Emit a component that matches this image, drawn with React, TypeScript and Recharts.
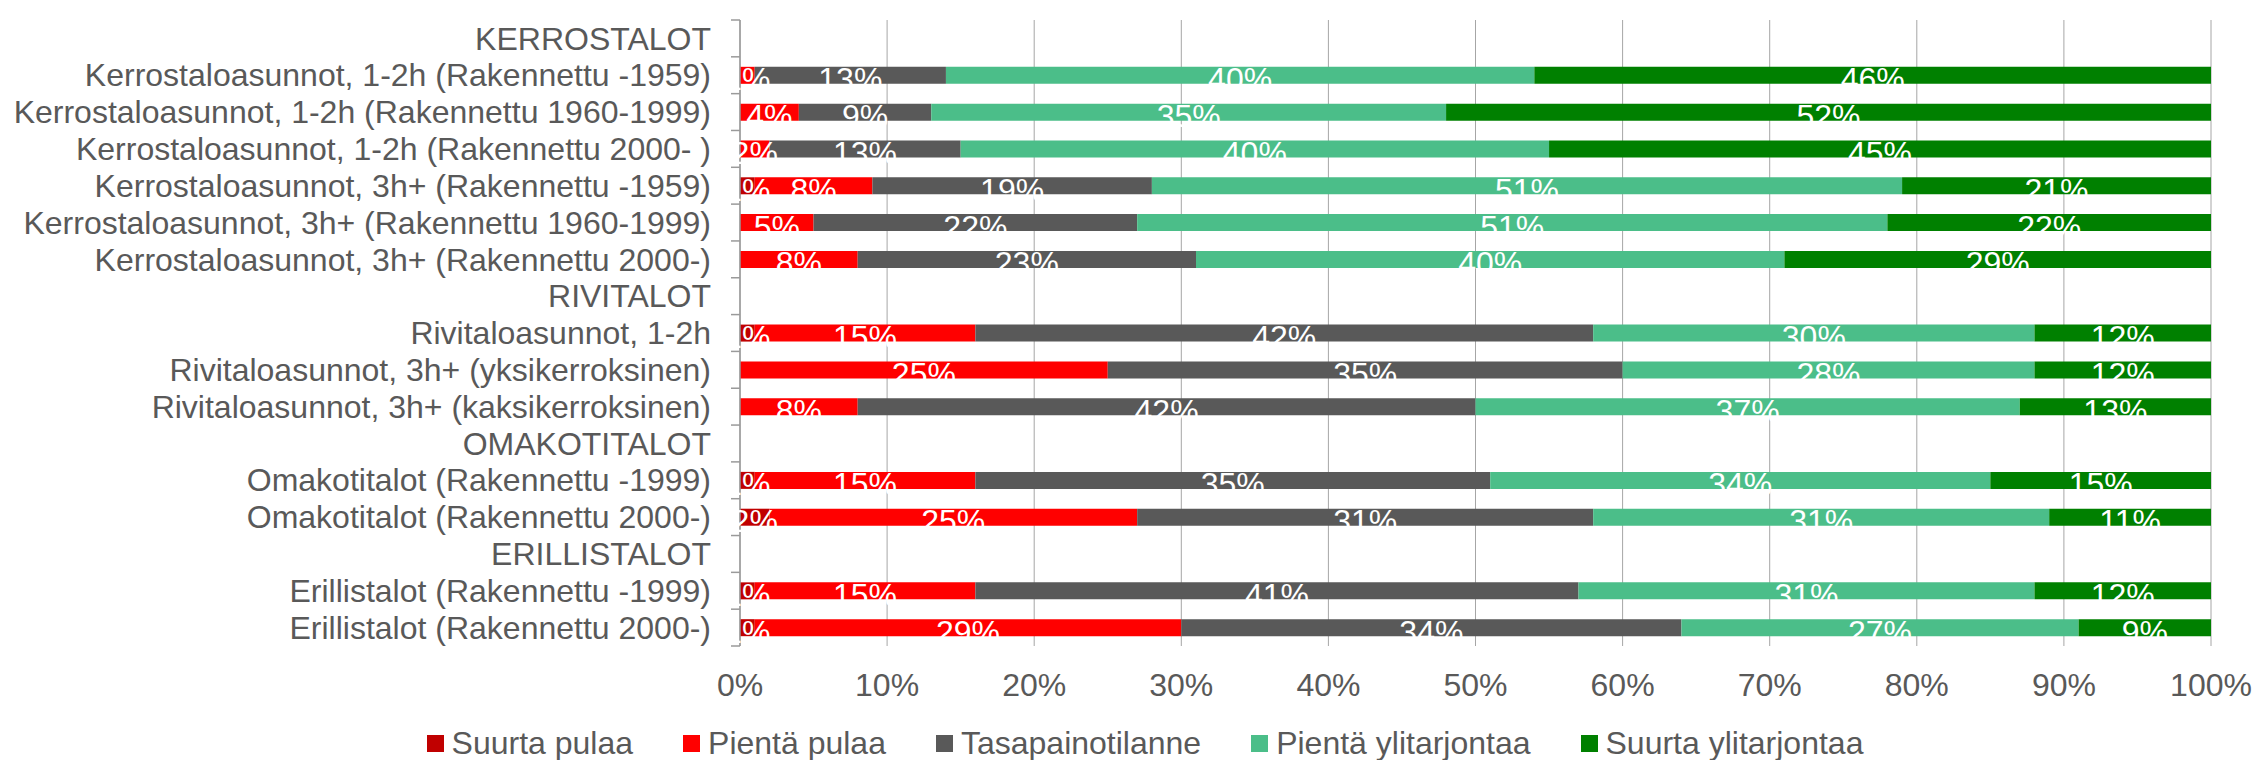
import { Bar, BarChart, CartesianGrid, LabelList, Legend, XAxis, YAxis } from "recharts";

const categories = [
  "KERROSTALOT",
  "Kerrostaloasunnot, 1-2h (Rakennettu -1959)",
  "Kerrostaloasunnot, 1-2h (Rakennettu 1960-1999)",
  "Kerrostaloasunnot, 1-2h (Rakennettu 2000- )",
  "Kerrostaloasunnot, 3h+ (Rakennettu -1959)",
  "Kerrostaloasunnot, 3h+ (Rakennettu 1960-1999)",
  "Kerrostaloasunnot, 3h+ (Rakennettu 2000-)",
  "RIVITALOT",
  "Rivitaloasunnot, 1-2h",
  "Rivitaloasunnot, 3h+ (yksikerroksinen)",
  "Rivitaloasunnot, 3h+ (kaksikerroksinen)",
  "OMAKOTITALOT",
  "Omakotitalot (Rakennettu -1999)",
  "Omakotitalot (Rakennettu 2000-)",
  "ERILLISTALOT",
  "Erillistalot (Rakennettu -1999)",
  "Erillistalot (Rakennettu 2000-)"
];

const suurtaPulaa = [null, 0, 0, 0, 1, 0, 0, null, 1, 0, 0, null, 1, 2, null, 1, 1];
const pientaPulaa = [null, 1, 4, 2, 8, 5, 8, null, 15, 25, 8, null, 15, 25, null, 15, 29];
const tasapaino = [null, 13, 9, 13, 19, 22, 23, null, 42, 35, 42, null, 35, 31, null, 41, 34];
const pientaYli = [null, 40, 35, 40, 51, 51, 40, null, 30, 28, 37, null, 34, 31, null, 31, 27];
const suurtaYli = [null, 46, 52, 45, 21, 22, 29, null, 12, 12, 13, null, 15, 11, null, 12, 9];

const xTicks = [0, 10, 20, 30, 40, 50, 60, 70, 80, 90, 100];

const series = [
  { key: "suurtaPulaa", name: "Suurta pulaa", color: "#C00000" },
  { key: "pientaPulaa", name: "Pientä pulaa", color: "#FF0000" },
  { key: "tasapaino", name: "Tasapainotilanne", color: "#595959" },
  { key: "pientaYli", name: "Pientä ylitarjontaa", color: "#4BBE89" },
  { key: "suurtaYli", name: "Suurta ylitarjontaa", color: "#008000" }
];

const WIDTH = 2254;
const HEIGHT = 760;
const MARGIN = { top: 20, right: 43, bottom: 54, left: 0 };
const X_AXIS_HEIGHT = 60;
const FONT = "'Liberation Sans', Arial, sans-serif";
const TEXT = "#595959";
const AXIS = "#9a9a9a";
const TICK_SIZE = 9;
const TICK_MARGIN = 20;
const ROW = (HEIGHT - MARGIN.top - MARGIN.bottom - X_AXIS_HEIGHT) / categories.length;

const data = categories.map((name, i) => ({
  name,
  suurtaPulaa: suurtaPulaa[i],
  pientaPulaa: pientaPulaa[i],
  tasapaino: tasapaino[i],
  pientaYli: pientaYli[i],
  suurtaYli: suurtaYli[i]
}));

const CategoryTick = (props: any) => {
  const { x, y, payload, index } = props;
  const lx1 = x + TICK_MARGIN;
  const lx2 = lx1 + TICK_SIZE;
  return (
    <g>
      <text x={x} y={y} dy="0.35em" textAnchor="end" fill={TEXT} fontSize={32} fontFamily={FONT}>
        {payload.value}
      </text>
      <line x1={lx1} x2={lx2} y1={y - ROW / 2} y2={y - ROW / 2} stroke={AXIS} strokeWidth={1.5} />
      {index === categories.length - 1 && (
        <line x1={lx1} x2={lx2} y1={y + ROW / 2} y2={y + ROW / 2} stroke={AXIS} strokeWidth={1.5} />
      )}
    </g>
  );
};

const BarLabel = (props: any) => {
  const { x, y, width, height, value } = props;
  if (!value) return null;
  return (
    <text
      x={x + width / 2}
      y={y + height / 2 + 15}
      textAnchor="middle"
      fill="#ffffff"
      fontSize={32}
      fontFamily={FONT}
    >
      {`${value}%`}
    </text>
  );
};

const LegendContent = () => (
  <div
    style={{
      display: "flex",
      justifyContent: "center",
      alignItems: "center",
      gap: 50,
      paddingLeft: 36,
      fontFamily: FONT,
      fontSize: 32,
      color: TEXT,
      lineHeight: "37px"
    }}
  >
    {series.map((s) => (
      <div key={s.key} style={{ display: "flex", alignItems: "center" }}>
        <span style={{ width: 17, height: 17, background: s.color, marginRight: 8, display: "inline-block" }} />
        <span>{s.name}</span>
      </div>
    ))}
  </div>
);

export default function App() {
  return (
    <div style={{ position: "absolute", left: 0, top: 0, fontFamily: FONT }}>
      <BarChart width={WIDTH} height={HEIGHT} data={data} layout="vertical" margin={MARGIN} barSize={17}>
        <CartesianGrid horizontal={false} stroke="#a6a6a6" />
        <XAxis
          type="number"
          domain={[0, 100]}
          ticks={xTicks}
          height={X_AXIS_HEIGHT}
          tickFormatter={(v) => `${v}%`}
          tick={{ fill: TEXT, fontSize: 32, fontFamily: FONT }}
          tickLine={false}
          axisLine={false}
          tickSize={6}
          tickMargin={21}
          interval={0}
        />
        <XAxis
          xAxisId="top"
          orientation="top"
          type="number"
          domain={[0, 100]}
          ticks={xTicks}
          height={0}
          tick={() => <g />}
          tickSize={TICK_SIZE}
          tickLine={{ stroke: "#a6a6a6" }}
          axisLine={{ stroke: AXIS, strokeWidth: 1.5 }}
          interval={0}
        />
        <YAxis
          type="category"
          dataKey="name"
          width={740}
          interval={0}
          tickSize={TICK_SIZE}
          tickMargin={TICK_MARGIN}
          tickLine={false}
          axisLine={{ stroke: AXIS, strokeWidth: 1.5 }}
          tick={<CategoryTick />}
        />
        <Legend
          layout="horizontal"
          verticalAlign="middle"
          align="center"
          wrapperStyle={{ top: 725, left: 0, width: WIDTH }}
          content={<LegendContent />}
        />
        {series.map((s) => (
          <Bar key={s.key} dataKey={s.key} name={s.name} stackId="a" fill={s.color} isAnimationActive={false}>
            <LabelList dataKey={s.key} content={<BarLabel />} />
          </Bar>
        ))}
      </BarChart>
    </div>
  );
}
